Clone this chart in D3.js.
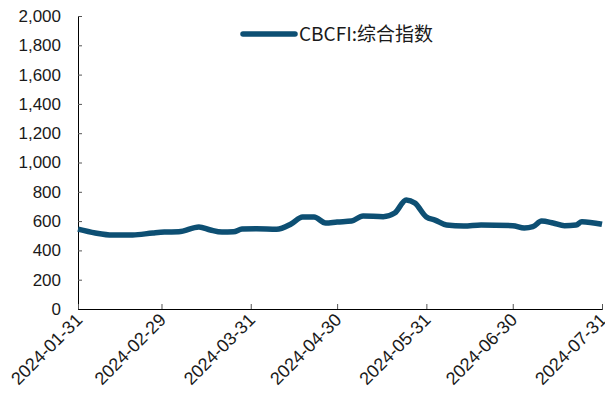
<!DOCTYPE html>
<html>
<head>
<meta charset="utf-8">
<script src="https://cdn.jsdelivr.net/npm/d3@7"></script>
<style>
  body { margin: 0; background: #fff; }
  svg text { font-family: "Liberation Sans", Arial, sans-serif; fill: #1a1a1a; }
</style>
</head>
<body>
<svg id="chart" width="605" height="403"></svg>
<script>
// CBCFI composite index
const dates = [
  "2024-01-31", "2024-02-06", "2024-02-12", "2024-02-19", "2024-02-26", "2024-03-01",
  "2024-03-06", "2024-03-13", "2024-03-17", "2024-03-21", "2024-03-25", "2024-03-28",
  "2024-04-02", "2024-04-09", "2024-04-14", "2024-04-18", "2024-04-22", "2024-04-26",
  "2024-04-30", "2024-05-05", "2024-05-09", "2024-05-16", "2024-05-20", "2024-05-24",
  "2024-05-27", "2024-05-31", "2024-06-03", "2024-06-07", "2024-06-13", "2024-06-19",
  "2024-06-30", "2024-07-04", "2024-07-07", "2024-07-10", "2024-07-14", "2024-07-18",
  "2024-07-22", "2024-07-24", "2024-07-31"
];
const values = [
  545, 519, 505, 505, 519, 525,
  527, 560, 539, 525, 527, 546,
  548, 544, 580, 628, 628, 587,
  594, 600, 635, 630, 655, 744,
  723, 628, 607, 573, 566, 573,
  569, 553, 562, 600, 587, 569,
  573, 596, 578
];
const xTicks = ["2024-01-31", "2024-02-29", "2024-03-31", "2024-04-30", "2024-05-31", "2024-06-30", "2024-07-31"];
const yTicks = [0, 200, 400, 600, 800, 1000, 1200, 1400, 1600, 1800, 2000];
const seriesName = "CBCFI:综合指数";

const parse = d3.timeParse("%Y-%m-%d");
const data = dates.map((d, i) => ({ date: parse(d), value: values[i] }));

const m = { left: 78, right: 602, top: 16, bottom: 309 };
const svg = d3.select("#chart");
const color = "#0d4f73";

const x = d3.scaleTime()
  .domain([parse(xTicks[0]), parse(xTicks[xTicks.length - 1])])
  .range([m.left, m.right]);
const y = d3.scaleLinear().domain([0, 2000]).range([m.bottom, m.top]);

// y axis
const yAxis = svg.append("g")
  .attr("transform", "translate(" + m.left + ",0)")
  .call(d3.axisLeft(y).tickValues(yTicks).tickSize(-4).tickPadding(17).tickFormat(d3.format(",")));
yAxis.select(".domain").attr("stroke", "#000");
yAxis.selectAll(".tick line").attr("stroke", "#555");
yAxis.selectAll("text").attr("font-size", 17).attr("fill", "#1a1a1a");

// x axis
const xAxis = svg.append("g")
  .attr("transform", "translate(0," + m.bottom + ")")
  .call(d3.axisBottom(x).tickValues(xTicks.map(parse)).tickSize(-5).tickFormat(d3.timeFormat("%Y-%m-%d")));
xAxis.select(".domain").attr("stroke", "#000");
xAxis.selectAll(".tick line").attr("stroke", "#555");
xAxis.selectAll("text")
  .attr("font-size", 18)
  .attr("fill", "#1a1a1a")
  .attr("text-anchor", "end")
  .attr("dy", null)
  .attr("y", 0)
  .attr("transform", "translate(5,12) rotate(-45)");

// line
const line = d3.line()
  .x(d => x(d.date))
  .y(d => y(d.value))
  .curve(d3.curveMonotoneX);

svg.append("path")
  .datum(data)
  .attr("fill", "none")
  .attr("stroke", color)
  .attr("stroke-width", 5.5)
  .attr("stroke-linejoin", "round")
  .attr("d", line);

// legend
const lg = svg.append("g").attr("transform", "translate(243,34)");
lg.append("line").attr("x1", 0).attr("x2", 52).attr("stroke", color).attr("stroke-width", 5.5).attr("stroke-linecap", "round");
lg.append("text")
  .attr("x", 56).attr("y", 6.5)
  .attr("font-size", 19)
  .style("font-family", "'Noto Sans CJK SC', sans-serif")
  .text(seriesName);
</script>
</body>
</html>
